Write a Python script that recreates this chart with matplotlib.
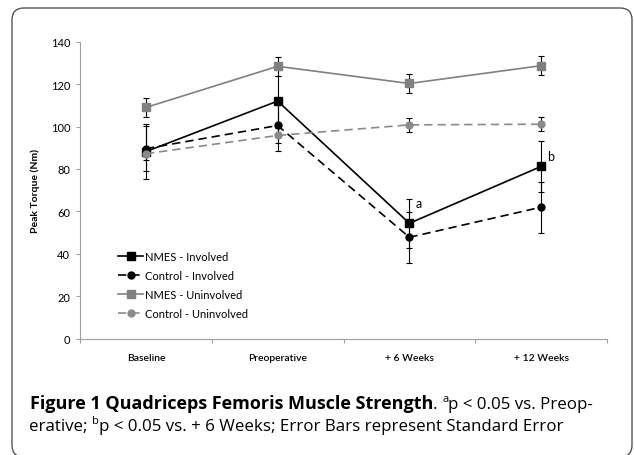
import matplotlib
matplotlib.use('Agg')
import matplotlib.pyplot as plt
from matplotlib.patches import FancyBboxPatch
from matplotlib.transforms import IdentityTransform
import numpy as np

# values (Nm)
phases = ['Baseline', 'Preoperative', '+ 6 Weeks', '+ 12 Weeks']
nmes_inv = [88.2, 112.0, 54.4, 81.2]
nmes_inv_se = [13.0, 11.6, 11.6, 12.0]
ctrl_inv = [89.6, 100.5, 47.8, 62.0]
ctrl_inv_se = [10.6, 12.0, 12.0, 12.0]
nmes_uninv = [109.0, 128.4, 120.3, 128.7]
nmes_uninv_se = [4.5, 4.6, 4.5, 4.6]
ctrl_uninv = [87.2, 95.8, 100.8, 101.1]
ctrl_uninv_se = [3.0, 3.4, 3.2, 3.3]

W, H = 634, 456
fig = plt.figure(figsize=(W / 100, H / 100), dpi=100)
ax = fig.add_axes([80 / W, 1 - 339.7 / H, 527 / W, 297 / H])

x = np.arange(len(phases))
grey = '#808080'

series = [
    (nmes_inv, nmes_inv_se, 'NMES - Involved', 'black', '-', 's'),
    (ctrl_inv, ctrl_inv_se, 'Control - Involved', 'black', (0, (5, 3)), 'o'),
    (nmes_uninv, nmes_uninv_se, 'NMES - Uninvolved', grey, '-', 's'),
    (ctrl_uninv, ctrl_uninv_se, 'Control - Uninvolved', '#8a8a8a', (0, (5, 3)), 'o'),
]
for vals, se, lab, col, ls, mk in series:
    ax.errorbar(x, vals, yerr=se, fmt='none', ecolor='black', elinewidth=0.8,
                capsize=2.5, capthick=0.8, zorder=2)
    ax.plot(x, vals, color=col, linestyle=ls, linewidth=1.2, marker=mk,
            markersize=5.5 if mk == 's' else 5, label=lab, zorder=3)

ax.text(2.07, 64, 'a', fontsize=9, family='Lato', ha='center', va='center')
ax.text(3.07, 86.3, 'b', fontsize=9, family='Lato', ha='center', va='center')

ax.set_xlim(-0.5, 3.5)
ax.set_ylim(0, 140)
ax.set_yticks(range(0, 141, 20))
ax.set_xticks([-0.5, 0.5, 1.5, 2.5, 3.5])
ax.set_xticklabels([])
ax.set_xticks(x, minor=True)
ax.set_xticklabels(phases, minor=True, fontsize=7.5, family='Lato', fontweight='semibold')
ax.tick_params(axis='x', which='minor', length=0, pad=10)
ax.tick_params(axis='x', which='major', length=3, color='#a0a0a0')
ax.tick_params(axis='y', length=3, color='#a0a0a0', labelsize=8, pad=4)
for lbl in ax.get_yticklabels():
    lbl.set_family('Lato')
for s in ['top', 'right']:
    ax.spines[s].set_visible(False)
for s in ['left', 'bottom']:
    ax.spines[s].set_color('#a0a0a0')
    ax.spines[s].set_linewidth(0.8)
ax.set_ylabel('Peak Torque (Nm)', fontsize=7.5, family='Lato', fontweight='bold', labelpad=8)

ax.legend(loc='upper left', bbox_to_anchor=(0.072, 0.296), frameon=False,
          borderpad=0, borderaxespad=0, handlelength=2.3, handletextpad=0.1,
          labelspacing=0.72, prop={'family': 'Lato', 'size': 8})

# rounded frame around the panel, bottom edge runs off the image
frame = FancyBboxPatch((12, -2), 620, 449, boxstyle='round,pad=0,rounding_size=12',
                       transform=IdentityTransform(), facecolor='none',
                       edgecolor='#555555', linewidth=1)
fig.patches.append(frame)

# caption, drawn piece by piece
renderer = fig.canvas.get_renderer()


def piece(xpix, ypix, s, size=12.2, weight='normal'):
    t = fig.text(xpix / W, 1 - ypix / H, s, fontsize=size, fontweight=weight,
                 family='Open Sans', va='baseline', ha='left')
    bb = t.get_window_extent(renderer)
    return bb.x1


cx = piece(30, 409, 'Figure 1 Quadriceps Femoris Muscle Strength', size=13, weight='bold')
cx = piece(cx, 409, '. ')
cx = piece(cx, 402, 'a', size=8)
piece(cx, 409, 'p < 0.05 vs. Preop-')
cx = piece(29, 431, 'erative; ')
cx = piece(cx, 424, 'b', size=8)
piece(cx, 431, 'p < 0.05 vs. + 6 Weeks; Error Bars represent Standard Error')

fig.savefig('out.png', dpi=100)
